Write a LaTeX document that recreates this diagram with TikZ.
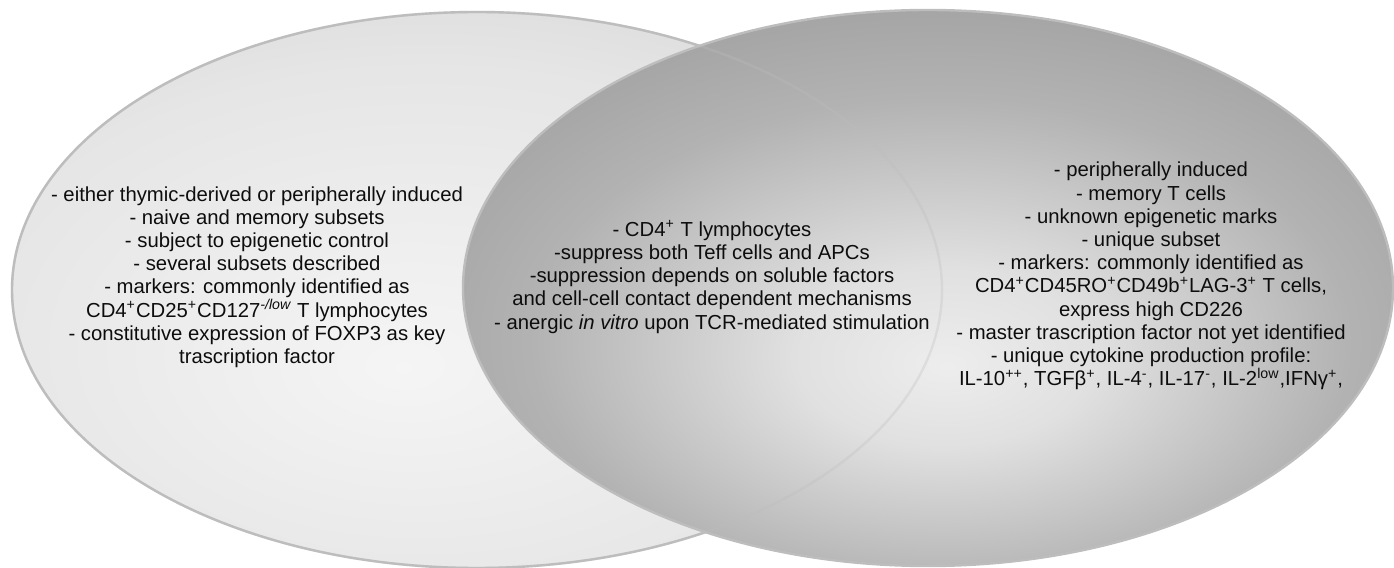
\documentclass[tikz,border=0pt]{standalone}
\usepackage{fontspec}
\setmainfont{Liberation Sans}
\pgfdeclareradialshading{lightball}{\pgfpoint{-4bp}{-7bp}}{color(0bp)=(white!96!black); color(25bp)=(white!90!black); color(50bp)=(white!78!black); color(75bp)=(white!76!black)}
\pgfdeclareradialshading{darkball}{\pgfpoint{1bp}{-7bp}}{color(0bp)=(white!93!black); color(8bp)=(white!88!black); color(22bp)=(white!70!black); color(50bp)=(white!50!black); color(75bp)=(white!48!black)}
\begin{document}
\begin{tikzpicture}[x=0.5pt, y=0.5pt, line join=round, line cap=round,
	rim/.style={draw=black!26, line width=1.2pt},
	info/.style={align=center, text=black!95, font=\fontsize{10.15}{11.6}\selectfont}]
	\def\rx{465} \def\ry{278} % semi-axes
	\useasboundingbox (0,0) rectangle (1394,568);
	\shade[shading=lightball, rim] (477,278) ellipse [x radius=\rx, y radius=\ry];
	\shade[shading=darkball, rim] (928,280) ellipse [x radius=\rx, y radius=\ry];
	\draw[rim, draw opacity=0.3] (477,278) ellipse [x radius=\rx, y radius=\ry];
	\node[info] (regL) at (257,291) {- either thymic-derived or peripherally induced\\
		- naive and memory subsets\\
		- subject to epigenetic control\\
		- several subsets described\\
		- markers: commonly identified as\\
		CD4\textsuperscript{+}CD25\textsuperscript{+}CD127\textsuperscript{\itshape -/low} T lymphocytes\\
		- constitutive expression of FOXP3 as key\\
		trascription factor};
	\node[info] (regC) at (712,291) {- CD4\textsuperscript{+} T lymphocytes\\
		-suppress both Teff cells and APCs\\
		-suppression depends on soluble factors\\
		and cell-cell contact dependent mechanisms\\
		- anergic \textit{in vitro} upon TCR-mediated stimulation};
	\node[info] (regR) at (1151,292) {- peripherally induced\\
		- memory T cells\\
		- unknown epigenetic marks\\
		- unique subset\\
		- markers: commonly identified as\\
		CD4\textsuperscript{+}CD45RO\textsuperscript{+}CD49b\textsuperscript{+}LAG-3\textsuperscript{+} T cells,\\
		express high CD226\\
		- master trascription factor not yet identified\\
		- unique cytokine production profile:\\
		IL-10\textsuperscript{++}, TGFβ\textsuperscript{+}, IL-4\textsuperscript{-}, IL-17\textsuperscript{-}, IL-2\textsuperscript{low},IFNγ\textsuperscript{+},};
\end{tikzpicture}
\end{document}
